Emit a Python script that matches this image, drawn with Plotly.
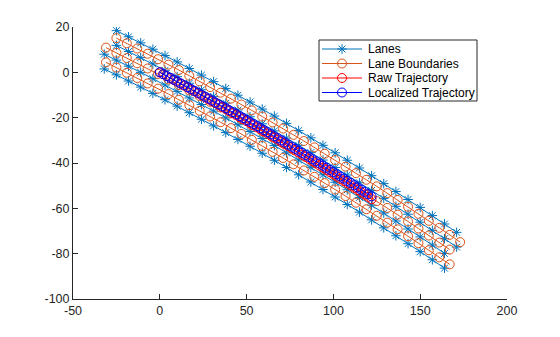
import plotly.graph_objects as go

# ---- Lanes (blue, '*' markers) ----
lane0_x = [-25, -18, -11, -4, 3, 10, 17, 24, 31, 38, 45, 52, 59, 66, 73, 80, 87, 94, 101, 108, 115, 122, 129, 136, 143, 150, 157, 164, 171]
lane0_y = [18.4, 15.7, 13.0, 10.2, 7.4, 4.6, 1.7, -1.2, -4.1, -7.1, -10.1, -13.1, -16.2, -19.3, -22.5, -25.7, -28.9, -32.2, -35.5, -38.8, -42.2, -45.6, -49.1, -52.6, -56.1, -59.6, -63.2, -66.9, -70.6]
lane1_x = [-25, -18, -11, -4, 3, 10, 17, 24, 31, 38, 45, 52, 59, 66, 73, 80, 87, 94, 101, 108, 115, 122, 129, 136, 143, 150, 157, 164, 171]
lane1_y = [11.9, 9.2, 6.5, 3.7, 0.9, -1.9, -4.8, -7.7, -10.6, -13.6, -16.6, -19.6, -22.7, -25.8, -29.0, -32.2, -35.4, -38.7, -42.0, -45.3, -48.7, -52.1, -55.6, -59.1, -62.6, -66.1, -69.7, -73.4, -77.1]
lane2_x = [-32, -25, -18, -11, -4, 3, 10, 17, 24, 31, 38, 45, 52, 59, 66, 73, 80, 87, 94, 101, 108, 115, 122, 129, 136, 143, 150, 157, 164]
lane2_y = [8.0, 5.4, 2.7, 0.0, -2.8, -5.6, -8.4, -11.3, -14.2, -17.1, -20.1, -23.1, -26.1, -29.2, -32.3, -35.5, -38.7, -41.9, -45.2, -48.5, -51.8, -55.2, -58.6, -62.1, -65.6, -69.1, -72.6, -76.2, -79.9]
lane3_x = [-32, -25, -18, -11, -4, 3, 10, 17, 24, 31, 38, 45, 52, 59, 66, 73, 80, 87, 94, 101, 108, 115, 122, 129, 136, 143, 150, 157, 164]
lane3_y = [1.5, -1.1, -3.8, -6.5, -9.3, -12.1, -14.9, -17.8, -20.7, -23.6, -26.6, -29.6, -32.6, -35.7, -38.8, -42.0, -45.2, -48.4, -51.7, -55.0, -58.3, -61.7, -65.1, -68.6, -72.1, -75.6, -79.1, -82.7, -86.4]

# ---- Lane boundaries (orange, 'o' markers) ----
bound0_x = [-25, -19, -13, -7, -1, 5, 11, 17, 23, 29, 35, 41, 47, 53, 59, 65, 71, 77, 83, 89, 95, 101, 107, 113, 119, 125, 131, 137, 143, 149, 155, 161, 167, 173]
bound0_y = [15.1, 12.8, 10.5, 8.2, 5.8, 3.4, 1.0, -1.5, -4.0, -6.5, -9.0, -11.6, -14.2, -16.8, -19.5, -22.1, -24.8, -27.6, -30.3, -33.1, -35.9, -38.7, -41.6, -44.5, -47.4, -50.3, -53.3, -56.3, -59.3, -62.4, -65.5, -68.6, -71.7, -74.9]
bound1_x = [-31, -25, -19, -13, -7, -1, 5, 11, 17, 23, 29, 35, 41, 47, 53, 59, 65, 71, 77, 83, 89, 95, 101, 107, 113, 119, 125, 131, 137, 143, 149, 155, 161, 167]
bound1_y = [10.9, 8.6, 6.3, 4.0, 1.7, -0.7, -3.1, -5.6, -8.0, -10.5, -13.0, -15.5, -18.1, -20.7, -23.3, -26.0, -28.6, -31.3, -34.1, -36.8, -39.6, -42.4, -45.2, -48.1, -51.0, -53.9, -56.8, -59.8, -62.8, -65.8, -68.9, -72.0, -75.1, -78.2]
bound2_x = [-31, -25, -19, -13, -7, -1, 5, 11, 17, 23, 29, 35, 41, 47, 53, 59, 65, 71, 77, 83, 89, 95, 101, 107, 113, 119, 125, 131, 137, 143, 149, 155, 161, 167]
bound2_y = [4.4, 2.1, -0.2, -2.5, -4.9, -7.2, -9.6, -12.1, -14.5, -17.0, -19.5, -22.0, -24.6, -27.2, -29.8, -32.5, -35.1, -37.8, -40.6, -43.3, -46.1, -48.9, -51.7, -54.6, -57.5, -60.4, -63.3, -66.3, -69.3, -72.3, -75.4, -78.5, -81.6, -84.7]

# ---- Trajectories ----
traj_x = [0, 2, 4, 6, 8, 10, 12, 14, 16, 18, 20, 22, 24, 26, 28, 30, 32, 34, 36, 38, 40, 42, 44, 46, 48, 50, 52, 54, 56, 58, 60,
          62, 64, 66, 68, 70, 72, 74, 76, 78, 80, 82, 84, 86, 88, 90, 92, 94, 96, 98, 100, 102, 104, 106, 108, 110, 112, 114, 116, 118, 120, 122]
raw_y = [0, -0.83, -1.66, -2.49, -3.32, -4.16, -5.01, -5.85, -6.70, -7.55, -8.40, -9.26, -10.12, -10.98, -11.85, -12.72, -13.59, -14.46, -15.34, -16.22, -17.11,
         -17.99, -18.88, -19.78, -20.67, -21.57, -22.47, -23.38, -24.29, -25.20, -26.11, -27.03, -27.95, -28.87, -29.80, -30.73, -31.66, -32.60, -33.54, -34.48, -35.42,
         -36.37, -37.32, -38.27, -39.23, -40.19, -41.15, -42.12, -43.08, -44.06, -45.03, -46.01, -46.99, -47.97, -48.96, -49.95, -50.94, -51.94, -52.93, -53.94, -54.94, -55.95]
loc_y = [0, -0.81, -1.62, -2.43, -3.24, -4.06, -4.89, -5.71, -6.54, -7.37, -8.20, -9.04, -9.88, -10.72, -11.57, -12.42, -13.27, -14.12, -14.98, -15.84, -16.71,
         -17.57, -18.44, -19.32, -20.19, -21.07, -21.95, -22.84, -23.73, -24.62, -25.51, -26.41, -27.31, -28.21, -29.12, -30.03, -30.94, -31.86, -32.78, -33.70, -34.62,
         -35.55, -36.48, -37.41, -38.35, -39.29, -40.23, -41.18, -42.12, -43.08, -44.03, -44.99, -45.95, -46.91, -47.88, -48.85, -49.82, -50.80, -51.77, -52.76, -53.74, -54.73]

x_ticks = [-50, 0, 50, 100, 150, 200]
y_ticks = [-100, -80, -60, -40, -20, 0, 20]

legend_labels = ["Lanes", "Lane Boundaries", "Raw Trajectory", "Localized Trajectory"]

LANE_C = "#0072BD"
BOUND_C = "#D95319"
RAW_C = "#FF0000"
LOC_C = "#0000FF"
FONT = "Liberation Sans, Arial, sans-serif"

fig = go.Figure()


def series(x, y, color, symbol, size):
    return go.Scatter(x=x, y=y, mode="lines+markers", showlegend=False,
                      line=dict(color=color, width=1),
                      marker=dict(symbol=symbol, size=size, color=color,
                                  line=dict(color=color, width=1)))


for lx, ly in [(lane0_x, lane0_y), (lane1_x, lane1_y), (lane2_x, lane2_y), (lane3_x, lane3_y)]:
    fig.add_trace(series(lx, ly, LANE_C, "asterisk-open", 8))
for bx, by in [(bound0_x, bound0_y), (bound1_x, bound1_y), (bound2_x, bound2_y)]:
    fig.add_trace(series(bx, by, BOUND_C, "circle-open", 9))
fig.add_trace(series(traj_x, raw_y, RAW_C, "circle-open", 9))
fig.add_trace(series(traj_x, loc_y, LOC_C, "circle-open", 9))

# ---- Legend box (MATLAB style, drawn on an overlay axis in pixel units) ----
leg_styles = [(LANE_C, "asterisk-open", 8), (BOUND_C, "circle-open", 9),
              (RAW_C, "circle-open", 9), (LOC_C, "circle-open", 9)]
leg_left, leg_right, leg_top, leg_bottom = 319, 477, 40, 101
row_y = [49, 63.5, 78, 92.5]
fig.add_trace(go.Scatter(x=[leg_left, leg_right, leg_right, leg_left, leg_left],
                         y=[leg_top, leg_top, leg_bottom, leg_bottom, leg_top],
                         mode="lines", fill="toself", fillcolor="white",
                         line=dict(color="#262626", width=1),
                         xaxis="x2", yaxis="y2", showlegend=False, hoverinfo="skip"))
for (col, sym, sz), ry, lab in zip(leg_styles, row_y, legend_labels):
    fig.add_trace(go.Scatter(x=[322, 362], y=[ry, ry], mode="lines", xaxis="x2", yaxis="y2",
                             showlegend=False, hoverinfo="skip", line=dict(color=col, width=1)))
    fig.add_trace(go.Scatter(x=[342], y=[ry], mode="markers", xaxis="x2", yaxis="y2",
                             showlegend=False, hoverinfo="skip",
                             marker=dict(symbol=sym, size=sz, color=col, line=dict(color=col, width=1))))
    fig.add_annotation(x=366, y=ry, xref="x2", yref="y2", text=lab, showarrow=False,
                       xanchor="left", yanchor="middle",
                       font=dict(family=FONT, size=12, color="#000000"))

axis_common = dict(showgrid=False, zeroline=False, showline=True, linecolor="#262626",
                   linewidth=1, ticks="inside", ticklen=5, tickcolor="#262626",
                   tickfont=dict(family=FONT, size=12.5, color="#262626"),
                   mirror=False)
fig.update_xaxes(range=[-50, 200], tickvals=x_ticks, ticktext=[str(v) for v in x_ticks], **axis_common)
fig.update_yaxes(range=[-100, 20], tickvals=y_ticks, ticktext=[str(v) for v in y_ticks], **axis_common)

fig.update_layout(
    width=560, height=337,
    margin=dict(l=73, r=53, t=27, b=38),
    paper_bgcolor="white", plot_bgcolor="white",
    showlegend=False,
    xaxis2=dict(overlaying="x", range=[73, 507], visible=False, fixedrange=True),
    yaxis2=dict(overlaying="y", range=[299, 27], visible=False, fixedrange=True),
)

fig.write_html("out.html")
